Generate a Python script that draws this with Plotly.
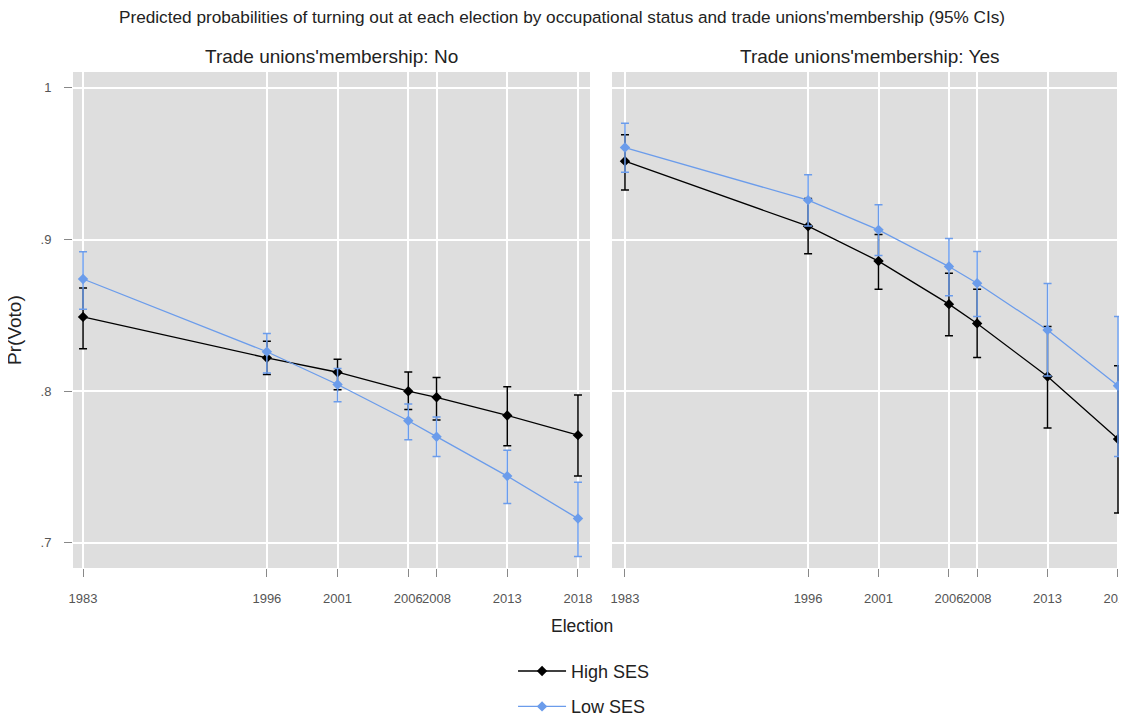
import plotly.graph_objects as go

elections = [1983, 1996, 2001, 2006, 2008, 2013, 2018]
tick_labels = ["1983", "1996", "2001", "2006", "2008", "2013", "2018"]

# Panel "No" (non-members)
no_high = [0.849, 0.822, 0.8125, 0.800, 0.796, 0.784, 0.771]
no_high_lo = [0.828, 0.811, 0.801, 0.788, 0.781, 0.764, 0.744]
no_high_hi = [0.868, 0.833, 0.821, 0.8126, 0.809, 0.803, 0.7975]
no_low = [0.874, 0.826, 0.8044, 0.7805, 0.770, 0.744, 0.716]
no_low_lo = [0.854, 0.812, 0.793, 0.768, 0.757, 0.726, 0.691]
no_low_hi = [0.892, 0.838, 0.815, 0.7915, 0.783, 0.761, 0.740]

# Panel "Yes" (members)
yes_high = [0.9517, 0.9088, 0.8858, 0.8574, 0.8447, 0.8097, 0.7684]
yes_high_lo = [0.9326, 0.8906, 0.8673, 0.8365, 0.8222, 0.7757, 0.7197]
yes_high_hi = [0.9692, 0.927, 0.9033, 0.8778, 0.8673, 0.8427, 0.8167]
yes_low = [0.9607, 0.926, 0.9064, 0.8822, 0.8712, 0.8403, 0.8036]
yes_low_lo = [0.9444, 0.909, 0.8895, 0.8629, 0.8493, 0.810, 0.757]
yes_low_hi = [0.9767, 0.9427, 0.9229, 0.9007, 0.8921, 0.871, 0.8493]

y_ticks = [0.7, 0.8, 0.9, 1.0]
y_tick_labels = [".7", ".8", ".9", "1"]

BLACK = "#000000"
BLUE = "#6b9ceb"
FONT = "Liberation Sans, Arial, sans-serif"
TXT = "#222222"

fig = go.Figure()

def add_series(x, y, lo, hi, color, name, xa, ya, show):
    fig.add_trace(go.Scatter(
        x=x, y=y, mode="lines+markers", name=name,
        line=dict(color=color, width=1.3),
        marker=dict(symbol="diamond", size=8, color=color),
        error_y=dict(type="data", symmetric=False,
                     array=[h - v for h, v in zip(hi, y)],
                     arrayminus=[v - l for v, l in zip(y, lo)],
                     color=color, thickness=1.5, width=4),
        xaxis=xa, yaxis=ya, showlegend=show, legendgroup=name,
    ))

add_series(elections, no_high, no_high_lo, no_high_hi, BLACK, "High SES", "x", "y", True)
add_series(elections, no_low, no_low_lo, no_low_hi, BLUE, "Low SES", "x", "y", True)
add_series(elections, yes_high, yes_high_lo, yes_high_hi, BLACK, "High SES", "x2", "y2", False)
add_series(elections, yes_low, yes_low_lo, yes_low_hi, BLUE, "Low SES", "x2", "y2", False)

xcommon = dict(
    tickmode="array", tickvals=elections, ticktext=tick_labels, tickangle=0,
    showgrid=True, gridcolor="white", gridwidth=1.5,
    ticks="outside", ticklen=8, tickcolor="#888", tickwidth=1,
    ticklabelstandoff=10,
    tickfont=dict(family=FONT, size=13, color="#555"),
    zeroline=False, showline=False,
)
ycommon = dict(
    range=[0.6834, 1.0105], tickmode="array", tickvals=y_ticks,
    showgrid=True, gridcolor="white", gridwidth=1.5,
    zeroline=False, showline=False,
)

fig.update_layout(
    width=1127, height=719,
    margin=dict(l=65, r=8, t=64, b=159, autoexpand=False),
    paper_bgcolor="white", plot_bgcolor="#dedede",
    font=dict(family=FONT, color=TXT),
    xaxis=dict(domain=[0, 0.4905], range=[1982.29, 2018.85], anchor="y", **xcommon),
    xaxis2=dict(domain=[0.5114, 1], range=[1982.08, 2018.64], anchor="y2", **xcommon),
    yaxis=dict(domain=[0, 1], anchor="x", ticktext=y_tick_labels,
               ticks="outside", ticklen=8, tickcolor="#888", ticklabelstandoff=10,
               tickfont=dict(family=FONT, size=13, color="#555"),
               **ycommon),
    yaxis2=dict(domain=[0, 1], anchor="x2", showticklabels=False, ticks="", **ycommon),
    showlegend=True,
    legend=dict(x=0.4175, y=-0.171, xanchor="left", yanchor="top",
                orientation="v", font=dict(family=FONT, size=18, color=TXT),
                itemwidth=48, tracegroupgap=9, bgcolor="rgba(0,0,0,0)"),
    annotations=[
        dict(text="Predicted probabilities of turning out at each election by occupational status and trade unions'membership (95% CIs)",
             xref="paper", yref="paper", x=0.4635, y=1.0, yshift=55, showarrow=False,
             font=dict(family=FONT, size=17.2, color=TXT), xanchor="center", yanchor="middle"),
        dict(text="Trade unions'membership: No", xref="paper", yref="paper",
             x=0.2457, y=1.0, yshift=16, showarrow=False,
             font=dict(family=FONT, size=19, color=TXT), xanchor="center", yanchor="middle"),
        dict(text="Trade unions'membership: Yes", xref="paper", yref="paper",
             x=0.7557, y=1.0, yshift=16, showarrow=False,
             font=dict(family=FONT, size=19, color=TXT), xanchor="center", yanchor="middle"),
        dict(text="Election", xref="paper", yref="paper",
             x=0.483, y=0, yshift=-58, showarrow=False,
             font=dict(family=FONT, size=17.5, color=TXT), xanchor="center", yanchor="middle"),
        dict(text="Pr(Voto)", xref="paper", yref="paper", textangle=-90,
             x=-0.055, y=0.48, showarrow=False,
             font=dict(family=FONT, size=19, color=TXT), xanchor="center", yanchor="middle"),
    ],
)

fig.write_html("out.html")
